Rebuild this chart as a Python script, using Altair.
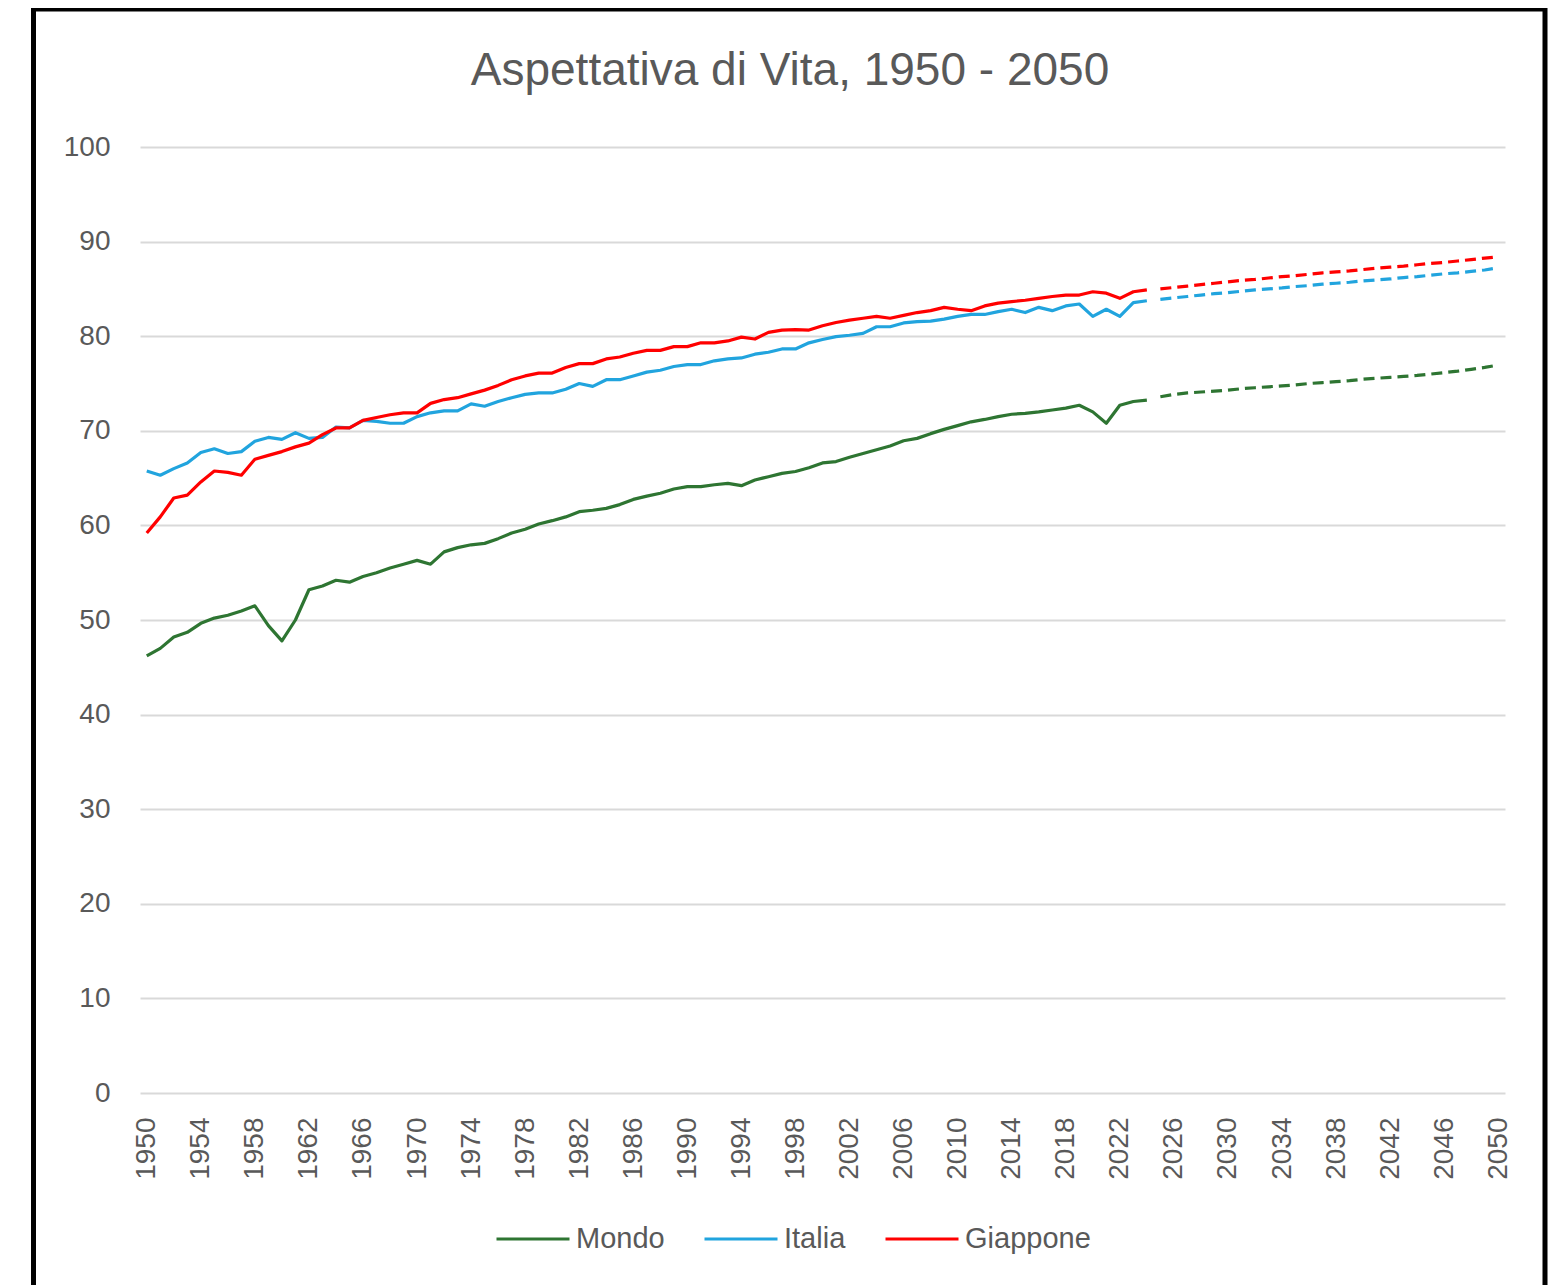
import altair as alt
import pandas as pd

SERIES = ["Mondo", "Italia", "Giappone"]
COLORS = ["#2E7532", "#21A4DE", "#FF0000"]
TITLE = "Aspettativa di Vita, 1950 - 2050"

YEARS_HIST = list(range(1950, 2025))
YEARS_PROJ = list(range(2025, 2051))

MONDO_HIST = [
    46.2, 47.0, 48.2, 48.7, 49.65, 50.2, 50.5, 50.95, 51.5, 49.4,
    47.8, 50.0, 53.2, 53.6, 54.2, 54.0, 54.6, 55.0, 55.5, 55.9,
    56.3, 55.9, 57.2, 57.65, 57.95, 58.1, 58.6, 59.2, 59.6, 60.15,
    60.5, 60.9, 61.45, 61.6, 61.8, 62.2, 62.75, 63.1, 63.4, 63.85,
    64.1, 64.1, 64.3, 64.45, 64.2, 64.8, 65.15, 65.5, 65.7, 66.1,
    66.6, 66.75, 67.2, 67.6, 68.0, 68.4, 68.95, 69.2, 69.7, 70.15,
    70.55, 70.95, 71.2, 71.5, 71.75, 71.85, 72.0, 72.2, 72.4, 72.7,
    72.0, 70.8, 72.7, 73.1, 73.25,
]
ITALIA_HIST = [
    65.75, 65.3, 66.0, 66.6, 67.7, 68.1, 67.6, 67.8, 68.9, 69.3,
    69.1, 69.8, 69.2, 69.3, 70.4, 70.3, 71.1, 71.0, 70.8, 70.8,
    71.5, 71.9, 72.1, 72.1, 72.85, 72.6, 73.1, 73.5, 73.85, 74.0,
    74.0, 74.4, 75.0, 74.7, 75.4, 75.4, 75.8, 76.2, 76.4, 76.8,
    77.0, 77.0, 77.4, 77.6, 77.7, 78.1, 78.3, 78.65, 78.65, 79.3,
    79.65, 79.95, 80.1, 80.3, 81.0, 81.0, 81.4, 81.55, 81.6, 81.8,
    82.1, 82.3, 82.3, 82.6, 82.85, 82.5, 83.05, 82.7, 83.2, 83.4,
    82.1, 82.85, 82.1, 83.55, 83.75,
]
GIAPPONE_HIST = [
    59.2, 60.9, 62.9, 63.2, 64.6, 65.75, 65.6, 65.3, 67.0, 67.4,
    67.8, 68.3, 68.7, 69.6, 70.3, 70.3, 71.1, 71.4, 71.7, 71.9,
    71.9, 72.9, 73.3, 73.5, 73.9, 74.3, 74.8, 75.4, 75.8, 76.1,
    76.1, 76.7, 77.1, 77.1, 77.6, 77.8, 78.2, 78.5, 78.5, 78.9,
    78.9, 79.3, 79.3, 79.5, 79.9, 79.7, 80.4, 80.65, 80.7, 80.65,
    81.1, 81.45, 81.7, 81.9, 82.1, 81.9, 82.2, 82.5, 82.7, 83.05,
    82.85, 82.7, 83.2, 83.5, 83.65, 83.8, 84.0, 84.2, 84.35, 84.35,
    84.7, 84.55, 84.0, 84.7, 84.9,
]

MONDO_PROJ = [
    73.6, 73.85, 74.0, 74.1, 74.2, 74.3, 74.45, 74.55, 74.65, 74.75,
    74.85, 75.0, 75.1, 75.2, 75.3, 75.45, 75.55, 75.65, 75.75, 75.85,
    76.0, 76.15, 76.3, 76.5, 76.7, 76.95,
]
ITALIA_PROJ = [
    83.9, 84.05, 84.2, 84.35, 84.5, 84.6, 84.75, 84.9, 85.0, 85.1,
    85.25, 85.35, 85.5, 85.6, 85.7, 85.85, 85.95, 86.05, 86.2, 86.3,
    86.45, 86.6, 86.7, 86.85, 87.0, 87.25,
]
GIAPPONE_PROJ = [
    85.0, 85.15, 85.3, 85.45, 85.6, 85.75, 85.9, 86.0, 86.15, 86.3,
    86.4, 86.55, 86.7, 86.8, 86.9, 87.05, 87.2, 87.3, 87.4, 87.55,
    87.7, 87.8, 87.95, 88.1, 88.25, 88.4,
]

X_TICKS = list(range(1950, 2051, 4))
Y_TICKS = list(range(0, 101, 10))

hist_rows = []
for name, vals in zip(SERIES, [MONDO_HIST, ITALIA_HIST, GIAPPONE_HIST]):
    for yr, v in zip(YEARS_HIST, vals):
        hist_rows.append({"anno": yr, "valore": v, "serie": name})
proj_rows = []
for name, vals in zip(SERIES, [MONDO_PROJ, ITALIA_PROJ, GIAPPONE_PROJ]):
    for yr, v in zip(YEARS_PROJ, vals):
        proj_rows.append({"anno": yr, "valore": v, "serie": name})
hist_df = pd.DataFrame(hist_rows)
proj_df = pd.DataFrame(proj_rows)

FONT = "Liberation Sans"
GREY = "#595959"

x_enc = alt.X(
    "anno:Q",
    scale=alt.Scale(domain=[1949.5, 2050.5], nice=False, zero=False),
    axis=alt.Axis(
        values=X_TICKS, format="d", labelAngle=270, labelFontSize=28,
        labelColor=GREY, labelFont=FONT, ticks=False, domain=False,
        grid=False, title=None, labelPadding=24, labelOverlap=False,
    ),
)
y_enc = alt.Y(
    "valore:Q",
    scale=alt.Scale(domain=[0, 100], nice=False),
    axis=alt.Axis(
        values=Y_TICKS, labelFontSize=28, labelColor=GREY, labelFont=FONT,
        ticks=False, domain=False, grid=True, gridColor="#D9D9D9",
        gridWidth=2, title=None, labelPadding=30,
    ),
)

one = pd.DataFrame({"titolo": [TITLE]})

border = alt.Chart(one).mark_rect(
    fillOpacity=0, stroke="black", strokeWidth=5
).encode(
    x=alt.value(-106.5), x2=alt.value(1405),
    y=alt.value(-138), y2=alt.value(1200),
)

title_mark = alt.Chart(one).mark_text(
    font=FONT, fontSize=46, color=GREY, align="center", baseline="alphabetic"
).encode(
    text="titolo:N",
    x=alt.value(650),
    y=alt.value(-62),
)

solid = alt.Chart(hist_df).mark_line(strokeWidth=3.2, strokeJoin="round").encode(
    x=x_enc,
    y=y_enc,
    color=alt.Color(
        "serie:N",
        scale=alt.Scale(domain=SERIES, range=COLORS),
        legend=alt.Legend(
            title=None, orient="none", legendX=355, legendY=1054,
            direction="horizontal", symbolType="stroke", symbolSize=5329,
            symbolStrokeWidth=3, labelFontSize=29, labelColor=GREY,
            labelFont=FONT, labelOffset=5, columnPadding=33, padding=0,
        ),
    ),
)

dashed = alt.Chart(proj_df).mark_line(
    strokeWidth=3.2, strokeDash=[11, 6], strokeCap="butt"
).encode(
    x=x_enc,
    y=y_enc,
    stroke=alt.Stroke(
        "serie:N", scale=alt.Scale(domain=SERIES, range=COLORS), legend=None
    ),
    detail="serie:N",
)

chart = alt.layer(border, title_mark, solid, dashed).properties(
    width=1365,
    height=946,
    autosize=alt.AutoSizeParams(type="none"),
    padding={"left": 132, "top": 139, "right": 44, "bottom": 192},
    background="white",
).configure_view(stroke=None)

chart.save("out.html", embed_options={"renderer": "svg", "actions": False})
